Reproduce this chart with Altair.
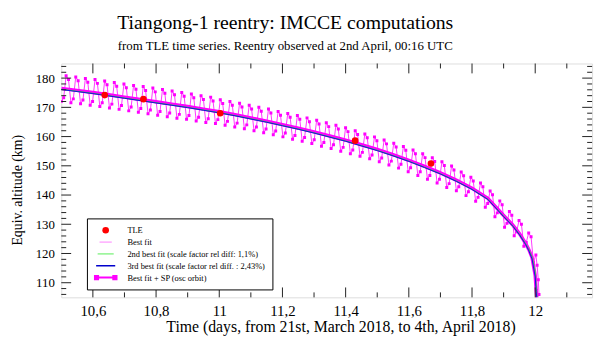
import altair as alt
import pandas as pd

SERIF = "Liberation Serif"

# --- data ---
TLE_T = [10.6375, 10.76, 11.003, 11.43, 11.67]
TLE_V = [174.2, 172.8, 168.0, 158.6, 150.8]

FIT_T = [10.50, 10.55, 10.60, 10.65, 10.70, 10.75, 10.80, 10.85, 10.90, 10.95,
         11.00, 11.05, 11.10, 11.15, 11.20, 11.25, 11.30, 11.35, 11.40, 11.45,
         11.50, 11.55, 11.60, 11.65, 11.70, 11.75, 11.80, 11.85, 11.90, 11.93,
         11.95, 11.97, 11.98, 11.99, 12.00, 12.003, 12.006]
BEST = [176.5, 175.8, 175.1, 174.3, 173.5, 172.7, 171.9, 171.1, 170.3, 169.4,
        168.5, 167.5, 166.4, 165.3, 164.1, 162.9, 161.6, 160.2, 158.8, 157.2,
        155.6, 153.8, 151.9, 149.8, 147.6, 145.1, 142.3, 138.9, 133.0, 129.6,
        126.8, 123.4, 121.3, 118.6, 112.5, 107.5, 104.0]
GREEN = [176.2, 175.5, 174.8, 174.0, 173.2, 172.4, 171.6, 170.8, 170.0, 169.1,
         168.2, 167.2, 166.1, 165.0, 163.8, 162.6, 161.3, 159.9, 158.5, 156.9,
         155.3, 153.5, 151.6, 149.5, 147.3, 144.8, 142.0, 138.6, 132.8, 129.4,
         126.6, 123.3, 121.3, 118.9, 113.8, 109.0, 105.0]
BLUE = [176.1, 175.4, 174.7, 173.9, 173.1, 172.3, 171.5, 170.7, 169.9, 169.0,
        168.1, 167.1, 166.0, 164.9, 163.7, 162.5, 161.2, 159.8, 158.4, 156.8,
        155.2, 153.4, 151.5, 149.4, 147.2, 144.7, 141.9, 138.5, 132.6, 129.2,
        126.4, 123.0, 120.9, 118.1, 112.0, 107.0, 103.5]

SP_T = [
    10.5000, 10.5076, 10.5153, 10.5229, 10.5305, 10.5381, 10.5458, 10.5534,
    10.5610, 10.5686, 10.5763, 10.5839, 10.5915, 10.5991, 10.6068, 10.6144,
    10.6220, 10.6296, 10.6373, 10.6449, 10.6525, 10.6601, 10.6678, 10.6754,
    10.6830, 10.6906, 10.6983, 10.7059, 10.7135, 10.7211, 10.7288, 10.7364,
    10.7440, 10.7516, 10.7593, 10.7669, 10.7745, 10.7821, 10.7898, 10.7974,
    10.8050, 10.8126, 10.8203, 10.8279, 10.8355, 10.8431, 10.8508, 10.8584,
    10.8660, 10.8736, 10.8813, 10.8889, 10.8965, 10.9041, 10.9118, 10.9194,
    10.9270, 10.9346, 10.9423, 10.9499, 10.9575, 10.9651, 10.9728, 10.9804,
    10.9880, 10.9956, 11.0033, 11.0109, 11.0185, 11.0261, 11.0338, 11.0414,
    11.0490, 11.0566, 11.0643, 11.0719, 11.0795, 11.0871, 11.0948, 11.1024,
    11.1100, 11.1176, 11.1253, 11.1329, 11.1405, 11.1481, 11.1558, 11.1634,
    11.1710, 11.1786, 11.1863, 11.1939, 11.2015, 11.2091, 11.2168, 11.2244,
    11.2320, 11.2396, 11.2473, 11.2549, 11.2625, 11.2701, 11.2778, 11.2854,
    11.2930, 11.3006, 11.3083, 11.3159, 11.3235, 11.3311, 11.3388, 11.3464,
    11.3540, 11.3616, 11.3693, 11.3769, 11.3845, 11.3921, 11.3998, 11.4074,
    11.4150, 11.4226, 11.4303, 11.4379, 11.4455, 11.4531, 11.4608, 11.4684,
    11.4760, 11.4836, 11.4913, 11.4989, 11.5065, 11.5141, 11.5218, 11.5294,
    11.5370, 11.5446, 11.5523, 11.5599, 11.5675, 11.5751, 11.5828, 11.5904,
    11.5980, 11.6056, 11.6133, 11.6209, 11.6285, 11.6361, 11.6438, 11.6514,
    11.6590, 11.6666, 11.6743, 11.6819, 11.6895, 11.6971, 11.7048, 11.7124,
    11.7200, 11.7276, 11.7353, 11.7429, 11.7505, 11.7581, 11.7658, 11.7734,
    11.7810, 11.7886, 11.7963, 11.8039, 11.8115, 11.8191, 11.8268, 11.8344,
    11.8420, 11.8496, 11.8573, 11.8649, 11.8725, 11.8801, 11.8878, 11.8954,
    11.9030, 11.9106, 11.9183, 11.9259, 11.9335, 11.9411, 11.9488, 11.9564,
    11.9640, 11.9716, 11.9793, 11.9869, 11.9945, 12.0021, 12.0060, 12.0098,
    12.0120]
SP_V = [
    172.0, 173.3, 180.8, 179.5, 171.6, 172.9, 180.4, 179.1,
    171.2, 172.5, 179.9, 178.6, 170.7, 172.0, 179.5, 178.2,
    170.3, 171.6, 179.0, 177.7, 169.8, 171.1, 178.5, 177.2,
    169.3, 170.6, 178.0, 176.7, 168.8, 170.1, 177.5, 176.2,
    168.3, 169.6, 177.1, 175.8, 167.8, 169.1, 176.6, 175.3,
    167.3, 168.6, 176.1, 174.8, 166.8, 168.1, 175.6, 174.3,
    166.3, 167.6, 175.1, 173.8, 165.9, 167.2, 174.6, 173.3,
    165.3, 166.6, 174.0, 172.7, 164.8, 166.1, 173.5, 172.2,
    164.5, 165.8, 172.6, 171.3, 163.9, 165.2, 172.0, 170.7,
    163.3, 164.6, 171.4, 170.1, 162.7, 164.0, 170.7, 169.4,
    162.0, 163.3, 170.0, 168.7, 161.3, 162.6, 169.4, 168.1,
    160.6, 161.9, 168.6, 167.3, 159.9, 161.2, 167.9, 166.6,
    159.1, 160.4, 167.2, 165.9, 158.4, 159.7, 166.4, 165.1,
    157.6, 158.9, 165.6, 164.3, 156.7, 158.0, 164.7, 163.4,
    155.9, 157.2, 163.9, 162.6, 155.0, 156.3, 163.0, 161.7,
    154.1, 155.4, 162.0, 160.7, 153.3, 154.6, 160.9, 159.6,
    152.4, 153.7, 159.9, 158.6, 151.4, 152.7, 158.8, 157.5,
    150.3, 151.6, 157.7, 156.4, 149.2, 150.5, 156.6, 155.3,
    148.0, 149.3, 155.4, 154.1, 146.7, 148.0, 154.1, 152.8,
    145.4, 146.7, 152.8, 151.5, 144.1, 145.4, 151.4, 150.1,
    142.6, 143.9, 149.9, 148.6, 141.5, 142.8, 147.9, 146.6,
    139.8, 141.1, 146.1, 144.8, 137.9, 139.2, 144.1, 142.8,
    135.8, 137.1, 141.4, 140.1, 132.6, 133.9, 138.0, 136.7,
    129.0, 130.3, 134.4, 133.1, 126.1, 127.4, 131.3, 130.0,
    122.5, 123.8, 127.0, 125.7, 117.0, 119.5, 116.0, 111.0,
    106.0]

SERIES = ["TLE", "Best fit", "2nd best fit (scale factor rel diff: 1,1%)",
          "3rd best fit (scale factor rel diff. : 2,43%)", "Best fit + SP (osc orbit)"]
STROKES = ["#ff0000", "#ff00ff", "#55ee55", "#0000cc", "#ff00ff"]
FILLS = ["#ff0000", "transparent", "transparent", "transparent", "#ff00ff"]
SP_PATH = ("M-1,0L1,0M-1,-0.16L-0.7,-0.16L-0.7,0.16L-1,0.16Z"
           "M0.7,-0.16L1,-0.16L1,0.16L0.7,0.16Z")
SHAPES = ["circle", "stroke", "stroke", "stroke", SP_PATH]
SIZES = [45, 484, 484, 484, 484]
WIDTHS = [0, 2, 2, 1.5, 1.5]

X_LABELS = [10.6, 10.8, 11.0, 11.2, 11.4, 11.6, 11.8, 12.0]
X_MINOR = [10.7, 10.9, 11.1, 11.3, 11.5, 11.7, 11.9, 12.1]
Y_LABELS = [110, 120, 130, 140, 150, 160, 170, 180]
Y_MINOR = [106, 108, 112, 114, 116, 118, 122, 124, 126, 128, 132, 134, 136, 138,
           142, 144, 146, 148, 152, 154, 156, 158, 162, 164, 166, 168, 172, 174,
           176, 178, 182, 184]

W, H = 538, 237
XDOM = [10.5, 12.18]
YDOM = [105, 185]

tle = pd.DataFrame({"t": TLE_T, "v": TLE_V})
best = pd.DataFrame({"t": FIT_T, "v": BEST})
green = pd.DataFrame({"t": FIT_T, "v": GREEN})
blue = pd.DataFrame({"t": FIT_T, "v": BLUE})
sp = pd.DataFrame({"t": SP_T, "v": SP_V})
# one hidden (clipped away) entry per series, used only to build the legend
leg_df = pd.DataFrame({"s": SERIES, "t": [0.0] * 5, "v": [0.0] * 5})

xs = alt.Scale(domain=XDOM, nice=False, zero=False)
ys = alt.Scale(domain=YDOM, nice=False, zero=False)

legend = alt.Legend(
    title=None, orient="none", legendX=26, legendY=157,
    padding=7, strokeColor="black", fillColor="white",
    labelFont=SERIF, labelFontSize=8.5, labelColor="black",
    rowPadding=2, clipHeight=10, labelOffset=10, symbolOpacity=1,
)

x_axis = alt.Axis(
    values=X_LABELS, ticks=False, tickSize=0, domain=False, grid=False, labelOverlap=False,
    labelExpr="replace(format(datum.value, '~g'), '.', ',')",
    labelFont=SERIF, labelFontSize=15, labelColor="black", labelPadding=6,
    title="Time (days, from 21st, March 2018, to 4th, April 2018)",
    titleFont=SERIF, titleFontSize=16, titleFontWeight="normal", titleColor="black",
    titlePadding=1, titleX=283, titleAlign="center")
y_axis = alt.Axis(
    values=Y_LABELS, ticks=False, tickSize=0, domain=False, grid=False, labelOverlap=False,
    labelFont=SERIF, labelFontSize=13, labelColor="black", labelPadding=7,
    title="Equiv. altitude (km)",
    titleFont=SERIF, titleFontSize=14, titleFontWeight="normal", titleColor="black",
    titlePadding=11, titleY=128, titleAlign="center")

X = alt.X("t:Q", scale=xs, axis=x_axis)
Y = alt.Y("v:Q", scale=ys, axis=y_axis)

sp_line = alt.Chart(sp).mark_line(strokeWidth=0.9, color="#ff22ff", clip=True).encode(x=X, y=Y)
sp_pts = alt.Chart(sp).mark_point(shape="square", filled=True, size=9, opacity=1,
                                  color="#ff00ff", clip=True).encode(x=X, y=Y)
best_line = alt.Chart(best).mark_line(strokeWidth=3.5, color="#ff00ff", clip=True).encode(x=X, y=Y)
green_line = alt.Chart(green).mark_line(strokeWidth=1, color="#33dd33", clip=True).encode(x=X, y=Y)
blue_line = alt.Chart(blue).mark_line(strokeWidth=1, color="#1010dd", clip=True).encode(x=X, y=Y)
tle_pts = alt.Chart(tle).mark_circle(size=45, opacity=1, color="#ff0000", clip=True).encode(x=X, y=Y)

legend_layer = alt.Chart(leg_df).mark_point(clip=True, opacity=1).encode(
    x=X, y=Y,
    shape=alt.Shape("s:N", scale=alt.Scale(domain=SERIES, range=SHAPES), legend=legend),
    stroke=alt.Stroke("s:N", scale=alt.Scale(domain=SERIES, range=STROKES), legend=legend),
    fill=alt.Fill("s:N", scale=alt.Scale(domain=SERIES, range=FILLS), legend=legend),
    size=alt.Size("s:N", scale=alt.Scale(domain=SERIES, range=SIZES), legend=legend),
    strokeWidth=alt.StrokeWidth("s:N", scale=alt.Scale(domain=SERIES, range=WIDTHS), legend=legend),
)

# inward ticks on all four sides
xmaj = pd.DataFrame({"t": X_LABELS})
xmin = pd.DataFrame({"t": X_MINOR})
ymaj = pd.DataFrame({"v": Y_LABELS})
ymin = pd.DataFrame({"v": Y_MINOR})
TC = "#222222"
ticks = [
    alt.Chart(xmaj).mark_rule(color=TC, strokeWidth=1).encode(x=X, y=alt.value(H), y2=alt.value(H - 10)),
    alt.Chart(xmaj).mark_rule(color=TC, strokeWidth=1).encode(x=X, y=alt.value(0), y2=alt.value(10)),
    alt.Chart(xmin).mark_rule(color=TC, strokeWidth=1).encode(x=X, y=alt.value(H), y2=alt.value(H - 5)),
    alt.Chart(xmin).mark_rule(color=TC, strokeWidth=1).encode(x=X, y=alt.value(0), y2=alt.value(5)),
    alt.Chart(ymaj).mark_rule(color=TC, strokeWidth=1).encode(y=Y, x=alt.value(0), x2=alt.value(10)),
    alt.Chart(ymaj).mark_rule(color=TC, strokeWidth=1).encode(y=Y, x=alt.value(W), x2=alt.value(W - 10)),
    alt.Chart(ymin).mark_rule(color=TC, strokeWidth=1).encode(y=Y, x=alt.value(0), x2=alt.value(5)),
    alt.Chart(ymin).mark_rule(color=TC, strokeWidth=1).encode(y=Y, x=alt.value(W), x2=alt.value(W - 5)),
]

chart = alt.layer(sp_line, sp_pts, best_line, green_line, blue_line, tle_pts, legend_layer, *ticks).properties(
    width=W, height=H,
    autosize=alt.AutoSizeParams(type="none"),
    padding={"left": 54, "top": 54, "right": 6, "bottom": 42},
    title=alt.TitleParams(
        text="Tiangong-1 reentry: IMCCE computations",
        subtitle="from TLE time series. Reentry observed at 2nd April, 00:16 UTC",
        anchor="middle", dx=-42, font=SERIF, fontSize=20, fontWeight="normal", color="black",
        subtitleFont=SERIF, subtitleFontSize=13, subtitleColor="black", subtitlePadding=7,
        offset=10),
).configure_view(stroke="black", strokeWidth=2).configure_axis(labelOverlap=False).configure(background="white")

chart.save("out.html", embed_options={"renderer": "svg", "actions": False})
